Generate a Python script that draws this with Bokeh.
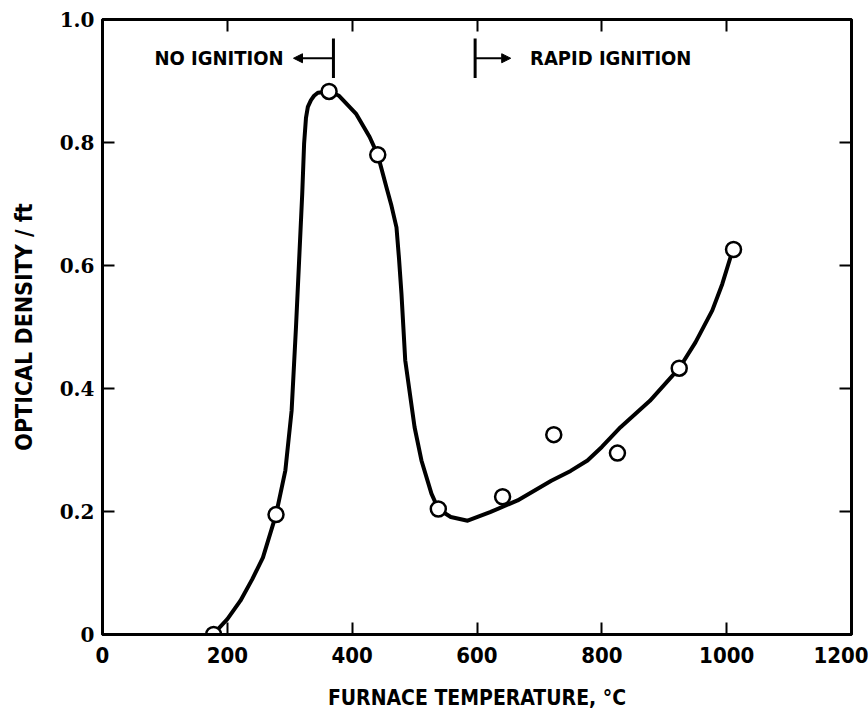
from bokeh.plotting import figure
from bokeh.models import LinearAxis, Arrow, NormalHead, CustomLabelingPolicy
from bokeh.core.properties import value
from bokeh.embed import file_html
from bokeh.resources import INLINE

# measured data points (furnace temperature, optical density / ft)
point_temp = [178, 278, 363, 441, 538, 641, 723, 825, 924, 1011]
point_od = [0.0, 0.195, 0.883, 0.780, 0.204, 0.224, 0.325, 0.295, 0.433, 0.626]

# hand-drawn smooth curve
curve_temp = [177, 200, 221, 240, 257, 278, 293, 303, 310, 315, 320, 323, 326, 329,
              334, 339, 345, 363, 379, 406, 428, 441, 455, 463, 471, 475, 479, 482,
              485, 500, 511, 527, 538, 558, 585, 621, 665, 719, 750, 777, 800, 830,
              877, 924, 950, 977, 993, 1006, 1011]
curve_od = [0.0, 0.025, 0.055, 0.09, 0.125, 0.195, 0.267, 0.364, 0.500, 0.608, 0.717,
            0.798, 0.840, 0.858, 0.869, 0.876, 0.881, 0.883, 0.876, 0.847, 0.809,
            0.780, 0.727, 0.697, 0.662, 0.612, 0.554, 0.500, 0.446, 0.337, 0.283,
            0.229, 0.204, 0.191, 0.185, 0.199, 0.218, 0.250, 0.266, 0.283, 0.305,
            0.337, 0.380, 0.433, 0.475, 0.527, 0.570, 0.613, 0.626]

x_ticks = [0, 200, 400, 600, 800, 1000, 1200]
x_tick_labels = ["0", "200", "400", "600", "800", "1000", "1200"]
y_ticks = [0, 0.2, 0.4, 0.6, 0.8, 1.0]
y_tick_labels = ["0", "0.2", "0.4", "0.6", "0.8", "1.0"]

no_ign_label = "NO IGNITION"
rapid_label = "RAPID IGNITION"
no_ign_limit = 370     # deg C
rapid_limit = 597      # deg C
ann_y = 0.937

SANS = "DejaVu Sans Condensed"
SERIF = "DejaVu Serif"

p = figure(width=868, height=719, x_range=(0, 1200), y_range=(0, 1.0),
           output_backend="svg", toolbar_location=None,
           min_border_left=102, min_border_right=17, min_border_top=19,
           min_border_bottom=85, background_fill_color="white",
           border_fill_color="white")
p.grid.visible = False
p.outline_line_color = "black"
p.outline_line_width = 3

xa = p.xaxis[0]
xa.ticker = x_ticks
xa.major_label_overrides = dict(zip(x_ticks, x_tick_labels))
xa.axis_label = "FURNACE TEMPERATURE, \u00b0C"
ya = p.yaxis[0]
ya.ticker = y_ticks
ya.major_label_overrides = dict(zip(y_ticks, y_tick_labels))
ya.axis_label = "OPTICAL DENSITY / ft"

for ax in (xa, ya):
    ax.axis_line_width = 3
    ax.axis_line_color = "black"
    ax.major_tick_in = 12
    ax.major_tick_out = 0
    ax.major_tick_line_width = 2
    ax.minor_tick_line_color = None
    ax.axis_label_text_font = SANS
    ax.axis_label_text_font_style = "bold"
    ax.axis_label_text_color = "black"
    ax.major_label_text_color = "black"
    ax.major_label_text_font_style = "bold"

xa.major_label_text_font = SANS
xa.major_label_text_font_size = "22px"
xa.major_label_standoff = 12
xa.axis_label_text_font_size = "21px"
xa.axis_label_standoff = 20
ya.major_label_text_font = SERIF
ya.major_label_text_font_size = "20px"
ya.major_label_standoff = 8
ya.axis_label_text_font_size = "23px"
ya.axis_label_standoff = 20

no_labels = "for (const i of indices) { indices.unset(i) }\nreturn indices"
top = LinearAxis(ticker=x_ticks[1:-1], major_label_policy=CustomLabelingPolicy(code=no_labels),
                 major_tick_in=12, major_tick_out=0, major_tick_line_width=2,
                 minor_tick_line_color=None, axis_line_width=3, major_label_standoff=0,
                 major_label_text_font_size="8px")
right = LinearAxis(ticker=y_ticks[1:-1], major_label_policy=CustomLabelingPolicy(code=no_labels),
                   major_tick_in=12, major_tick_out=0, major_tick_line_width=2,
                   minor_tick_line_color=None, axis_line_width=3, major_label_standoff=0,
                   major_label_text_font_size="8px")
p.add_layout(top, "above")
p.add_layout(right, "right")

# curve and points
p.line(curve_temp, curve_od, line_color="black", line_width=4, line_join="round",
       line_cap="round")
p.scatter(point_temp, point_od, size=15, marker="circle", fill_color="white",
          line_color="black", line_width=2.5)

# ignition annotations
p.segment(x0=[no_ign_limit, rapid_limit], y0=[ann_y - 0.032] * 2,
          x1=[no_ign_limit, rapid_limit], y1=[ann_y + 0.032] * 2,
          line_color="black", line_width=3)
p.add_layout(Arrow(end=NormalHead(size=9, fill_color="black", line_color="black"),
                   x_start=no_ign_limit, y_start=ann_y, x_end=no_ign_limit - 64,
                   y_end=ann_y, line_width=2, line_color="black"))
p.add_layout(Arrow(end=NormalHead(size=9, fill_color="black", line_color="black"),
                   x_start=rapid_limit, y_start=ann_y, x_end=rapid_limit + 57,
                   y_end=ann_y, line_width=2, line_color="black"))
p.text(x=[no_ign_limit - 80, rapid_limit + 88], y=[ann_y, ann_y],
       text=[no_ign_label, rapid_label], text_align=["right", "left"],
       text_baseline="middle", text_font=value(SANS), text_font_style="bold",
       text_font_size="20px", text_color="black")

open("out.html", "w").write(file_html(p, INLINE))
